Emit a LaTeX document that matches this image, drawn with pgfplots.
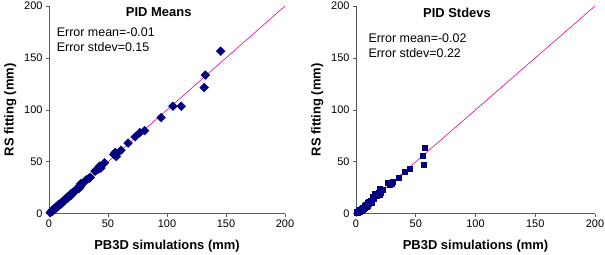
\documentclass[border=0pt]{standalone}
\usepackage{pgfplots}
\pgfplotsset{compat=1.18}
\usepackage{fontspec}
\setmainfont{Liberation Sans}
\definecolor{navy}{RGB}{0,0,128}
\pgfplotsset{
  myax/.style={
    scale only axis,
    xmin=0, xmax=200, ymin=0, ymax=200,
    axis x line=bottom, axis y line=left,
    axis line style={-, draw=gray!70!black, line width=0.8pt},
    xtick={0,50,...,200}, ytick={0,50,...,200},
    tick align=outside, major tick length=3bp,
    tick style={gray!70!black, line width=0.6pt},
    /pgf/number format/assume math mode=true,
    tick label style={font=\fontsize{11}{13}\selectfont},
    xlabel={PB3D simulations (mm)}, ylabel={RS fitting (mm)},
    label style={font=\fontsize{13}{15}\selectfont\bfseries},
    xlabel style={yshift=-5bp},
    ylabel style={yshift=1bp},
    clip=false,
  }
}
\pgfplotstableread{
x y
1 1
2 2
2.5 3
3 2.5
3.5 4
4 3.5
4.5 5
5 4.5
5.5 6
6 5.5
6.5 7
7 6.5
7.5 8
8 7.5
8.5 9
9 8.5
10 10
10.5 9.5
11 11
12 11.5
12.5 13
13 12.5
14 14
15 14.5
15.5 16
16 15
17 17
18 18
18.5 17.5
19 19.5
20 20
21 21
22 21.5
23 23
24 24
25 25
25.5 24.5
26 27
27 26.5
28 28.5
27 29
31 32
32 33
34 34
35 35
39 41
40 42
42 43
44 44
43 46
47 49
55 57
56 59
57 55
57 58
61 61
67 68
73 74
77 78
81 80
95 92.5
105 103.5
112 103.5
131.5 121.5
132.5 133.5
145.5 156.5
}\meansdata
\pgfplotstableread{
x y
0.5 1
1 2
1.5 0.5
2 3
2.5 1.5
3 2
3.5 4
4 3
4.5 5
5 2.5
5.5 4
6 6
6.5 5
7 8
7.5 5.5
8 7
8.5 9
9 6.5
9.5 11
10 8
10.5 12
11 10
12 13
13 11
14 16
15 14.5
16 19
17 17
18 18
19 20
20 24
20 18
21 20.5
22 23
26.5 29.5
28 28
29 30
30 29
31 30.5
36 35
41 40
45 43
55.5 56
57.5 63.5
57 47.5
}\stdevdata
\begin{document}
\begin{tikzpicture}
\path[use as bounding box] (0,0) rectangle (605bp,255bp);
\begin{axis}[myax, at={(49bp,41.3bp)}, anchor=south west,
  width=236bp, height=207.7bp]
\addplot[magenta, line width=0.6pt, no marks] coordinates {(0,0) (200,200)};
\addplot[only marks, mark=square*, mark size=3.1bp, mark options={rotate=45}, color=navy] table {\meansdata};
\node[font=\fontsize{13}{15}\selectfont\bfseries] at (axis cs:93,194) {PID Means};
\node[anchor=west, align=left, font=\fontsize{12.5}{15.5}\selectfont, inner sep=0pt] at (axis cs:6.5,167.5) {Error mean=-0.01\\Error stdev=0.15};
\end{axis}
\begin{axis}[myax, at={(356bp,41.3bp)}, anchor=south west,
  width=239bp, height=207.7bp]
\addplot[magenta, line width=0.6pt, no marks] coordinates {(0,0) (200,200)};
\addplot[only marks, mark=square*, mark size=2.5bp, color=navy] table {\stdevdata};
\node[font=\fontsize{13}{15}\selectfont\bfseries] at (axis cs:84.5,193.5) {PID Stdevs};
\node[anchor=west, align=left, font=\fontsize{12.5}{15.5}\selectfont, inner sep=0pt] at (axis cs:10.3,161.5) {Error mean=-0.02\\Error stdev=0.22};
\end{axis}
\end{tikzpicture}
\end{document}
